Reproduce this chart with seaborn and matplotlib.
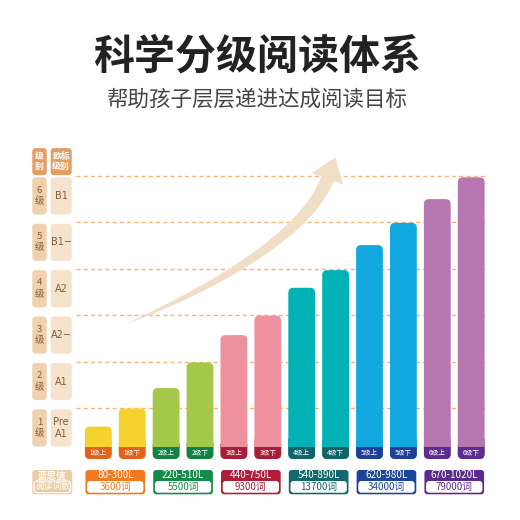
import numpy as np
import pandas as pd
import matplotlib
matplotlib.use("Agg")
import matplotlib.pyplot as plt
from matplotlib.patches import FancyBboxPatch, Rectangle, Polygon
import seaborn as sns

# ---------------- data ----------------
level_names = ["1\n级", "2\n级", "3\n级", "4\n级", "5\n级", "6\n级"]
cefr_levels = ["Pre\nA1", "A1", "A2−", "A2", "B1−", "B1"]
bar_labels = ["1级上", "1级下", "2级上", "2级下", "3级上", "3级下",
              "4级上", "4级下", "5级上", "5级下", "6级上", "6级下"]
bar_heights = [0.70, 1.09, 1.53, 2.08, 2.67, 3.09, 3.69, 4.07, 4.61, 5.09, 5.60, 6.07]
lexile = ["80-300L", "220-510L", "440-750L", "540-890L", "620-980L", "670-1020L"]
words = ["3600词", "5500词", "9300词", "13700词", "34000词", "79000词"]
title = "科学分级阅读体系"
subtitle = "帮助孩子层层递进达成阅读目标"

light_colors = ["#F6D22E", "#A4C94A", "#EE919F", "#00B1B6", "#12A8E0", "#B676AF"]
dark_colors = ["#E2621B", "#138046", "#A81D37", "#0F6468", "#1E3F96", "#5D2C8F"]
box_colors = ["#F47A20", "#168A4A", "#AE1F3A", "#12686B", "#1E4698", "#5B2A8E"]

# ---------------- setup ----------------
sns.set_theme(style="white")
plt.rcParams['font.family'] = ['Noto Sans CJK SC', 'DejaVu Sans']

W = H = 520
fig = plt.figure(figsize=(5.2, 5.2), dpi=100)
fig.patch.set_facecolor("white")
ax = fig.add_axes([0, 0, 1, 1])

# pixel mapping of data coordinates
X0, XS = 98.3, 33.9      # pixel x of category 0, px per category
Y0, YS = 459.0, 46.4     # pixel y (from top) of value 0, px per unit

def px(x, y):
    return (x - X0) / XS, (Y0 - y) / YS

df = pd.DataFrame({"label": bar_labels, "value": bar_heights})
pal = {lab: light_colors[i // 2] for i, lab in enumerate(bar_labels)}
sns.barplot(data=df, x="label", y="value", hue="label", palette=pal,
            width=0.79, legend=False, ax=ax, zorder=3)

ax.set_xlim(px(0, 0)[0], px(W, 0)[0])
ax.set_ylim(px(0, H)[1], px(0, 0)[1])
ax.axis("off")

rx = 5 / XS
asp = (5 / YS) / rx
strip = 12 / YS

bars = sorted(ax.patches, key=lambda p: p.get_x())
for i, p in enumerate(bars):
    x, w, h = p.get_x(), p.get_width(), p.get_height()
    p.set_visible(False)
    g = i // 2
    ax.add_patch(FancyBboxPatch((x, 0), w, h, boxstyle=f"round,pad=0,rounding_size={rx}",
                                mutation_aspect=asp, fc=light_colors[g], ec="none", zorder=3))
    ax.add_patch(FancyBboxPatch((x, 0), w, strip + 0.15, boxstyle=f"round,pad=0,rounding_size={rx}",
                                mutation_aspect=asp, fc=dark_colors[g], ec="none", zorder=4))
    ax.add_patch(Rectangle((x, strip), w, 0.17, fc=light_colors[g], ec="none", zorder=5))
    ax.text(x + w / 2, strip / 2, bar_labels[i], color="white", fontsize=4.8,
            ha="center", va="center", zorder=6)

# dashed level lines
xl0, xl1 = px(76, 0)[0], px(487, 0)[0]
for n in range(1, 7):
    ax.plot([xl0, xl1], [n + 0.1, n + 0.1], color="#F4B57B", lw=1.0,
            ls=(0, (3, 2.2)), zorder=1)

# left level columns
c1 = (px(32.3, 0)[0], px(46.7, 0)[0])
c2 = (px(50.7, 0)[0], px(71.7, 0)[0])
r = 3 / XS
asp2 = (3 / YS) / r
def rbox(x0, x1, y0, y1, fc, ec="none", lw=0, z=3):
    ax.add_patch(FancyBboxPatch((x0, y0), x1 - x0, y1 - y0,
                                boxstyle=f"round,pad=0,rounding_size={r}",
                                mutation_aspect=asp2, fc=fc, ec=ec, lw=lw, zorder=z))

for n in range(1, 7):
    y0, y1 = n - 1 + 0.27, n + 0.07
    rbox(*c1, y0, y1, "#F0D1AD")
    rbox(*c2, y0, y1, "#F6E3CE")
    ax.text(sum(c1) / 2, (y0 + y1) / 2, level_names[n - 1], color="#8A5A32",
            fontsize=6.8, ha="center", va="center", linespacing=1.3, zorder=4)
    ax.text(sum(c2) / 2, (y0 + y1) / 2, cefr_levels[n - 1], color="#8A5A32",
            fontsize=7.0, ha="center", va="center", linespacing=1.3, zorder=4,
            family=['DejaVu Sans'])
# headers
rbox(*c1, 6.12, 6.70, "#E59D62")
rbox(*c2, 6.12, 6.70, "#E59D62")
ax.text(sum(c1) / 2, 6.41, "级\n别", color="white", fontsize=6.4, fontweight="bold",
        ha="center", va="center", linespacing=1.1, zorder=4)
ax.text(sum(c2) / 2, 6.41, "欧标\n级别", color="white", fontsize=6.4, fontweight="bold",
        ha="center", va="center", linespacing=1.1, zorder=4)

# bottom lexile/words boxes
by0, by1 = px(0, 494.3)[1], px(0, 470)[1]
iy0, iy1 = px(0, 492.7)[1], px(0, 481)[1]
for g in range(6):
    x0, x1 = 2 * g - 0.38, 2 * g + 1.38
    rbox(x0, x1, by0, by1, box_colors[g])
    rbox(x0 + 0.05, x1 - 0.05, iy0, iy1, "white", z=4)
    ax.text((x0 + x1) / 2, (by1 + iy1) / 2 + 0.005, lexile[g], color="white",
            fontsize=7.2, ha="center", va="center", zorder=5)
    ax.text((x0 + x1) / 2, (iy0 + iy1) / 2, words[g], color=box_colors[g],
            fontsize=7.0, ha="center", va="center", zorder=5)
# caption box
cx0, cx1 = px(32.3, 0)[0], px(72.3, 0)[0]
rbox(cx0, cx1, by0, by1, "#EBCDA4")
rbox(cx0 + 0.05, cx1 - 0.05, iy0, iy1, "#EBCDA4", ec="white", lw=0.8, z=4)
ax.text((cx0 + cx1) / 2, (by1 + iy1) / 2, "蓝思值", color="white", fontsize=6.8,
        fontweight="bold", ha="center", va="center", zorder=5)
ax.text((cx0 + cx1) / 2, (iy0 + iy1) / 2, "阅读词数", color="white", fontsize=6.3,
        ha="center", va="center", zorder=5)

# decorative arrow (pixel geometry -> data)
P0 = np.array([128.0, 323.0])
P3 = np.array([327.5, 178.7])
d0 = np.array([0.92, -0.38]); d0 /= np.linalg.norm(d0)
d3 = np.array([0.35, -0.94]); d3 /= np.linalg.norm(d3)
C1 = P0 + 90 * d0
C2 = P3 - 60 * d3
t = np.linspace(0, 1, 80)[:, None]
B = (1 - t) ** 3 * P0 + 3 * (1 - t) ** 2 * t * C1 + 3 * (1 - t) * t ** 2 * C2 + t ** 3 * P3
dB = 3 * (1 - t) ** 2 * (C1 - P0) + 6 * (1 - t) * t * (C2 - C1) + 3 * t ** 2 * (P3 - C2)
tn = dB / np.linalg.norm(dB, axis=1, keepdims=True)
nrm = np.column_stack([-tn[:, 1], tn[:, 0]])
hw = 6.8 * t[:, 0] ** 0.7
left = B + nrm * hw[:, None]
right = B - nrm * hw[:, None]
te = tn[-1]; ne = nrm[-1]
head = [P3 + ne * 16.5, P3 + te * 23, P3 - ne * 16.5]
poly_px = np.vstack([left, head, right[::-1]])
poly = np.array([px(x, y) for x, y in poly_px])
ax.add_patch(Polygon(poly, closed=True, fc="#EFDDC3", ec="none", alpha=0.92, zorder=2))

# titles
fig.text(0.495, 1 - 56.7 / H, title, fontsize=29.5, fontweight="bold", color="#222222",
         ha="center", va="center")
fig.text(0.495, 1 - 100 / H, subtitle, fontsize=15.5, color="#444444",
         ha="center", va="center")

fig.savefig("out.png", dpi=100, facecolor="white")
